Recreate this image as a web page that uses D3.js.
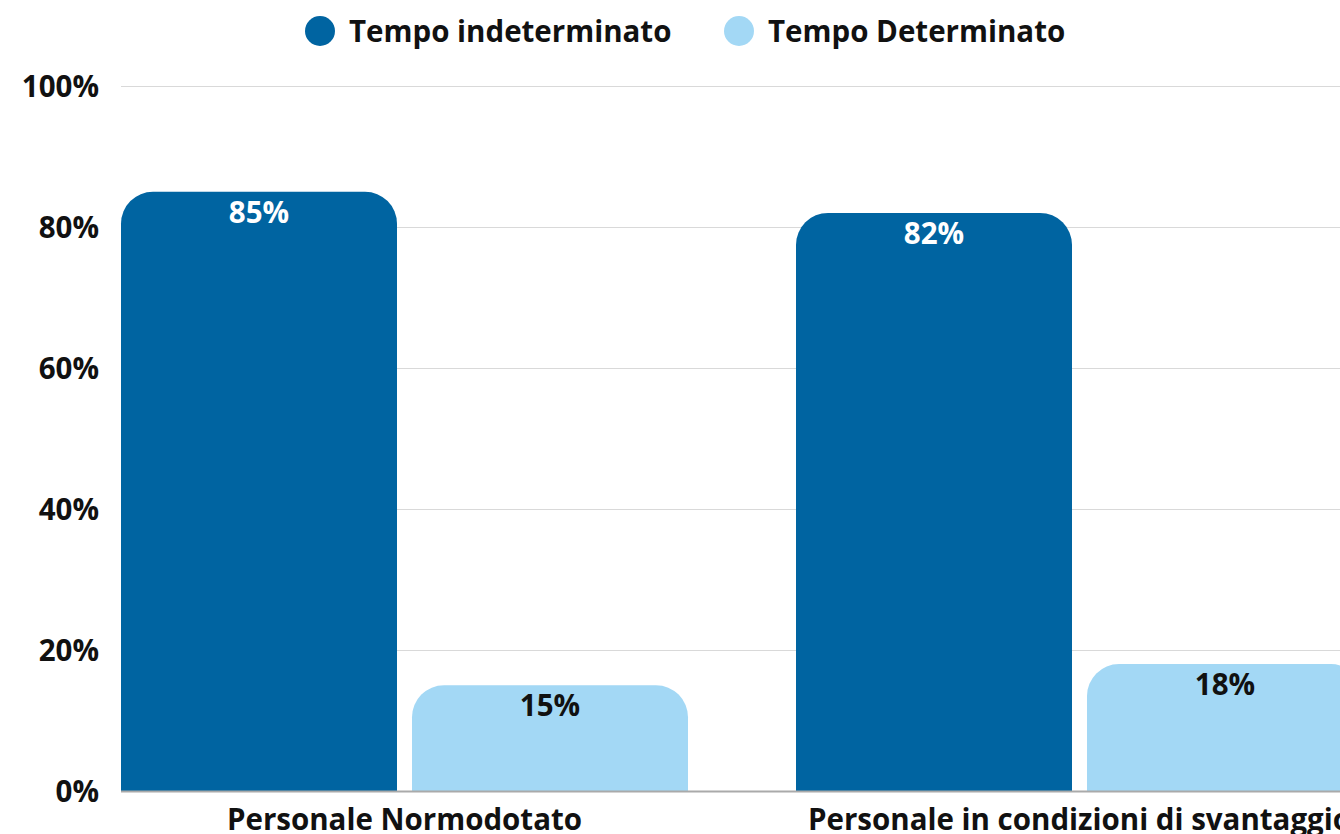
<!DOCTYPE html>
<html><head><meta charset="utf-8">
<script src="https://cdn.jsdelivr.net/npm/d3@7"></script>
<style>
html,body{margin:0;padding:0;background:#fff;overflow:hidden}
svg{display:block;font-family:"Open Sans",sans-serif;font-weight:700}
</style></head><body>
<svg id="chart" width="1340" height="834"></svg>
<script>
const categories = ["Personale Normodotato", "Personale in condizioni di svantaggio"];
const seriesNames = ["Tempo indeterminato", "Tempo Determinato"];
const indeterminato = [85, 82];
const determinato = [15, 18];
const yTicks = [0, 20, 40, 60, 80, 100];
const colors = ["#0064a1", "#a3d8f5"];
const labelColors = ["#ffffff", "#111111"];

const seriesValues = [indeterminato, determinato];
const svg = d3.select("#chart");
const plotLeft = 121, plotBottom = 791, plotTop = 86;
const fs = 29.5;

const x0 = d3.scaleBand().domain(categories).range([plotLeft, 1363]).paddingInner(108/675).paddingOuter(0);
const x1 = d3.scaleBand().domain(seriesNames).range([0, x0.bandwidth()]).paddingInner(15/291).paddingOuter(0);
const y = d3.scaleLinear().domain([0, 100]).range([plotBottom, plotTop]);

// gridlines
svg.append("g").selectAll("line").data(yTicks.filter(d => d > 0)).join("line")
  .attr("x1", plotLeft).attr("x2", 1340)
  .attr("y1", d => y(d) + 0.5).attr("y2", d => y(d) + 0.5)
  .attr("stroke", "#d9d9d9").attr("stroke-width", 1);

// y labels
svg.append("g").selectAll("text").data(yTicks).join("text")
  .attr("x", 99).attr("y", d => y(d)).attr("dy", "0.36em")
  .attr("text-anchor", "end").attr("font-size", fs).attr("fill", "#111")
  .text(d => d + "%");

function topRounded(x, yTop, w, h, r) {
  r = Math.min(r, h, w / 2);
  return `M${x},${yTop + h}V${yTop + r}A${r},${r} 0 0 1 ${x + r},${yTop}H${x + w - r}A${r},${r} 0 0 1 ${x + w},${yTop + r}V${yTop + h}Z`;
}

const data = [];
categories.forEach((c, i) => seriesNames.forEach((s, j) => data.push({c, s, j, v: seriesValues[j][i]})));

const bars = svg.append("g");
bars.selectAll("path").data(data).join("path")
  .attr("d", d => topRounded(x0(d.c) + x1(d.s), y(d.v), x1.bandwidth(), plotBottom - y(d.v), 32))
  .attr("fill", d => colors[d.j]);

bars.selectAll("text").data(data).join("text")
  .attr("x", d => x0(d.c) + x1(d.s) + x1.bandwidth() / 2)
  .attr("y", d => y(d.v) + 31)
  .attr("text-anchor", "middle").attr("font-size", fs)
  .attr("fill", d => labelColors[d.j])
  .text(d => d.v + "%");

// baseline
svg.append("line").attr("x1", plotLeft).attr("x2", 1340).attr("y1", plotBottom + 0.5).attr("y2", plotBottom + 0.5)
  .attr("stroke", "#aaaaaa").attr("stroke-width", 2);

// x labels
svg.append("g").selectAll("text").data(categories).join("text")
  .attr("x", d => x0(d) + x0.bandwidth() / 2).attr("y", 830)
  .attr("text-anchor", "middle").attr("font-size", fs).attr("fill", "#111")
  .text(d => d);

// legend
const legendX = [320, 739];
const lg = svg.append("g").selectAll("g").data(seriesNames).join("g")
  .attr("transform", (d, i) => `translate(${legendX[i]},31)`);
lg.append("circle").attr("r", 15).attr("fill", (d, i) => colors[i]);
lg.append("text").attr("x", 29).attr("dy", "0.36em").attr("font-size", fs).attr("fill", "#111").text(d => d);
</script>
</body></html>
